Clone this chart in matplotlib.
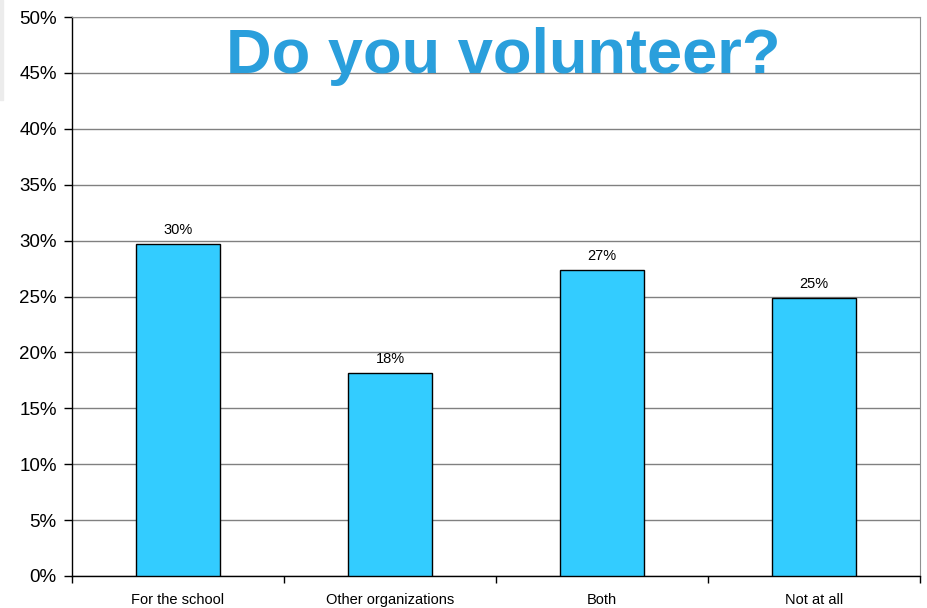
import matplotlib
matplotlib.use("Agg")
import matplotlib.pyplot as plt
from matplotlib.patches import Rectangle
from matplotlib.ticker import MultipleLocator, FuncFormatter, FixedLocator

categories = ["For the school", "Other organizations", "Both", "Not at all"]
values = [29.7, 18.2, 27.4, 24.9]
title = "Do you volunteer?"

plt.rcParams["font.family"] = ["Liberation Sans", "DejaVu Sans"]

fig = plt.figure(figsize=(9.27, 6.08), dpi=100)
ax = fig.add_axes([72 / 927, 32 / 608, 848 / 927, 559 / 608])

# faint sliver along the left page edge
fig.patches.append(Rectangle((0, 1 - 100 / 608), 3 / 927, 100 / 608,
                             transform=fig.transFigure, color="#ececec", zorder=0))

x = list(range(len(categories)))
bars = ax.bar(x, values, width=0.4, color="#33CCFF", edgecolor="black",
              linewidth=1.0, zorder=3)

for b, v in zip(bars, values):
    ax.text(b.get_x() + b.get_width() / 2, v + 0.6, f"{v:.0f}%",
            ha="center", va="bottom", fontsize=10.5, color="black")

ax.set_xlim(-0.5, len(categories) - 0.5)
ax.set_ylim(0, 50)
ax.yaxis.set_major_locator(MultipleLocator(5))
ax.yaxis.set_major_formatter(FuncFormatter(lambda v, p: f"{v:.0f}%"))
ax.grid(axis="y", color="#808080", linewidth=1.0, zorder=0)

# category boundaries carry the ticks; names sit between them
ax.xaxis.set_major_locator(FixedLocator([i - 0.5 for i in range(len(categories) + 1)]))
ax.xaxis.set_major_formatter(FuncFormatter(lambda v, p: ""))
ax.xaxis.set_minor_locator(FixedLocator(x))
ax.set_xticklabels(categories, minor=True)
ax.tick_params(axis="x", which="minor", length=0, pad=12, labelsize=10.5)
ax.tick_params(axis="x", which="major", length=5, direction="out", width=1)
ax.tick_params(axis="y", length=6, direction="out", width=1, labelsize=13.5, pad=5)

for side in ("top", "right"):
    ax.spines[side].set_color("#909090")
for side in ("left", "bottom"):
    ax.spines[side].set_color("black")
    ax.spines[side].set_linewidth(1.0)

ax.text(0.508, 0.93, title, transform=ax.transAxes, ha="center", va="center",
        fontsize=45.5, fontweight="bold", color="#2A9FDC", zorder=5)

fig.savefig("out.png", dpi=100)
